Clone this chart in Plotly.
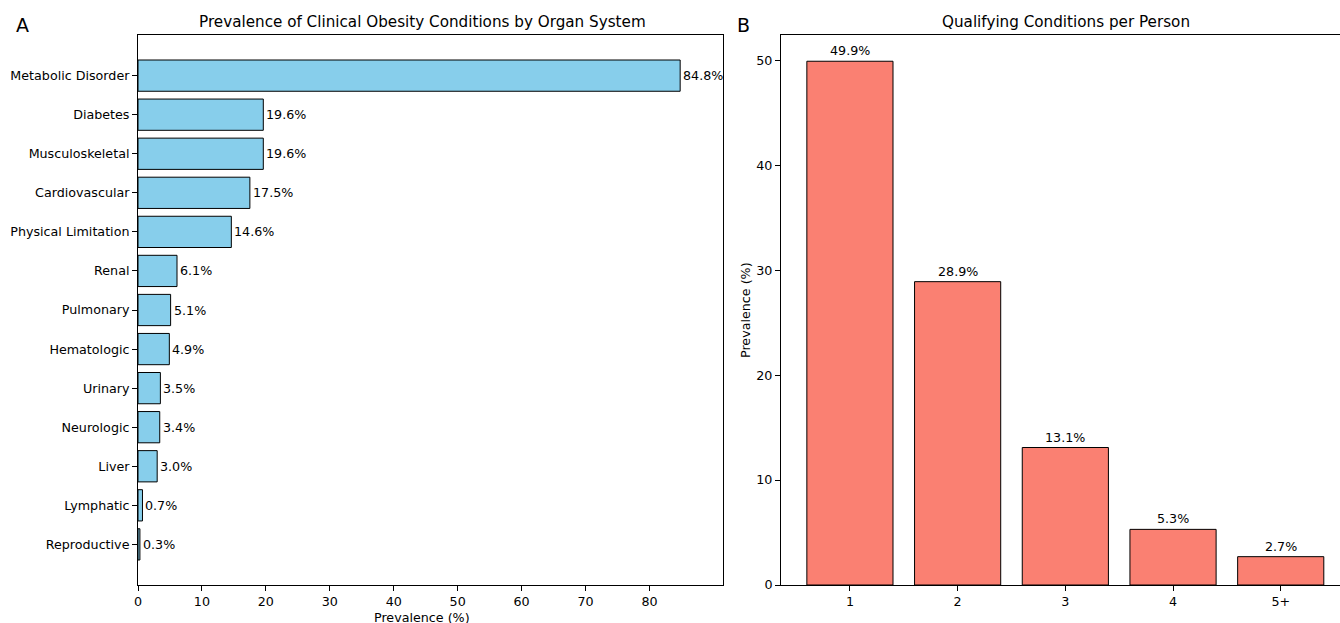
import plotly.graph_objects as go

organ_systems = ["Metabolic Disorder", "Diabetes", "Musculoskeletal", "Cardiovascular",
                 "Physical Limitation", "Renal", "Pulmonary", "Hematologic", "Urinary",
                 "Neurologic", "Liver", "Lymphatic", "Reproductive"]
organ_prev = [84.8, 19.6, 19.6, 17.5, 14.6, 6.1, 5.1, 4.9, 3.5, 3.4, 3.0, 0.7, 0.3]

n_conditions = ["1", "2", "3", "4", "5+"]
n_prev = [49.9, 28.9, 13.1, 5.3, 2.7]

FONT = "DejaVu Sans"
TS = 12.7
W, H = 1340, 623
ML, MR, MT, MB = 138, 0, 35, 38
pw = W - ML - MR
ph = H - MT - MB
d1 = [0, (723 - 138) / pw]
d2 = [(781 - 138) / pw, 1.0]

fig = go.Figure()
fig.add_trace(go.Bar(
    y=list(range(len(organ_systems))), x=organ_prev, orientation="h", width=0.8,
    marker=dict(color="#87CEEB", line=dict(color="black", width=1)),
    xaxis="x", yaxis="y", showlegend=False, hovertext=organ_systems))
fig.add_trace(go.Bar(
    x=list(range(len(n_conditions))), y=n_prev, width=0.8,
    marker=dict(color="#FA8072", line=dict(color="black", width=1)),
    xaxis="x2", yaxis="y2", showlegend=False, hovertext=n_conditions))


def px1(xpix):
    return (xpix - 138) / (723 - 138)


def px2(xpix):
    return (xpix - 781) / (W - 781)


def py(ypix):
    return (H - MB - ypix) / ph


annotations = []
for i, v in enumerate(organ_prev):
    annotations.append(dict(x=v, y=i, xref="x", yref="y", text=f"{v:.1f}%",
                            showarrow=False, xanchor="left", yanchor="middle", xshift=1,
                            font=dict(family=FONT, size=TS, color="black")))
for i, v in enumerate(n_prev):
    annotations.append(dict(x=i, y=v, xref="x2", yref="y2", text=f"{v:.1f}%",
                            showarrow=False, xanchor="center", yanchor="bottom", yshift=1,
                            font=dict(family=FONT, size=TS, color="black")))
annotations.append(dict(x=px1(22), y=py(25), xref="x domain", yref="y domain",
                        xanchor="center", yanchor="middle",
                        text="A", showarrow=False, font=dict(family=FONT, size=19, color="black")))
annotations.append(dict(x=px2(743), y=py(25), xref="x2 domain", yref="y2 domain",
                        xanchor="center", yanchor="middle",
                        text="B", showarrow=False, font=dict(family=FONT, size=19, color="black")))
annotations.append(dict(x=px1(422), y=py(22), xref="x domain", yref="y domain",
                        xanchor="center", yanchor="middle",
                        text="Prevalence of Clinical Obesity Conditions by Organ System",
                        showarrow=False, font=dict(family=FONT, size=15.2, color="black")))
annotations.append(dict(x=px2(1066), y=py(22), xref="x2 domain", yref="y2 domain",
                        xanchor="center", yanchor="middle",
                        text="Qualifying Conditions per Person",
                        showarrow=False, font=dict(family=FONT, size=15.2, color="black")))
annotations.append(dict(x=px1(422), y=py(617), xref="x domain", yref="y domain",
                        xanchor="center", yanchor="middle",
                        text="Prevalence (%)", showarrow=False,
                        font=dict(family=FONT, size=TS, color="black")))
annotations.append(dict(x=px2(745), y=0.5, xref="x2 domain", yref="y2 domain",
                        xanchor="center", yanchor="middle",
                        text="Prevalence (%)", showarrow=False, textangle=-90,
                        font=dict(family=FONT, size=TS, color="black")))

axis_common = dict(showline=True, linecolor="black", linewidth=1, ticks="outside",
                   ticklen=5, tickcolor="black", tickwidth=1, showgrid=False, zeroline=False,
                   automargin=False,
                   tickfont=dict(family=FONT, size=TS, color="black"))

fig.update_layout(
    width=W, height=H, margin=dict(l=ML, r=MR, t=MT, b=MB),
    plot_bgcolor="white", paper_bgcolor="white",
    font=dict(family=FONT, color="black"),
    annotations=annotations,
    xaxis=dict(domain=d1, anchor="y", range=[0, 91.5], mirror=True,
               tickvals=[0, 10, 20, 30, 40, 50, 60, 70, 80], **axis_common),
    yaxis=dict(domain=[0, 1], anchor="x", range=[len(organ_systems) - 1 + 1.04, -1.04],
               mirror=True, tickvals=list(range(len(organ_systems))), ticktext=organ_systems,
               **axis_common),
    xaxis2=dict(domain=d2, anchor="y2", range=[-0.64, -0.64 + (W - 781) / 107.7],
                mirror=True, tickvals=list(range(len(n_conditions))), ticktext=n_conditions,
                **axis_common),
    yaxis2=dict(domain=[0, 1], anchor="x2", range=[0, 52.4], tickvals=[0, 10, 20, 30, 40, 50],
                **axis_common),
)
fig.write_html("out.html", config={"displayModeBar": False},
               post_script="document.body.style.margin='0';document.body.style.padding='0';")
